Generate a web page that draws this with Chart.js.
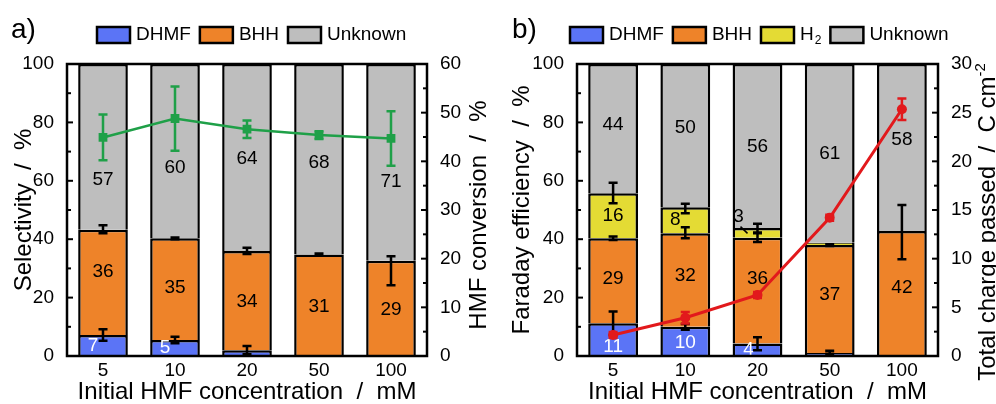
<!DOCTYPE html>
<html lang="en">
<head>
<meta charset="utf-8">
<title>Selectivity and Faraday efficiency vs. initial HMF concentration</title>
<script src="https://cdn.jsdelivr.net/npm/chart.js@4.4.1/dist/chart.umd.min.js"></script>
<style>
  body { margin: 0; background: #fff; }
  .panel { position: absolute; top: 0; width: 498px; height: 404px; }
  #panel-a { left: 0; }
  #panel-b { left: 498px; }
</style>
</head>
<body>
<div class="panel" id="panel-a"><canvas id="chart-a" width="498" height="404"></canvas></div>
<div class="panel" id="panel-b"><canvas id="chart-b" width="498" height="404"></canvas></div>

<script>
// ---- data -------------------------------------------------------------
var concentrations = ['5', '10', '20', '50', '100'];

// a) selectivity (%) - segment heights as drawn
var selDHMF = [7.2, 5.5, 2, null, null];
var selBHH = [36, 34.8, 34, 34.8, 32.6];
var selUnknown = [56.8, 59.7, 64, 65.2, 67.4];
// printed numbers
var selDHMFText = [7, 5, null, null, null];
var selBHHText = [36, 35, 34, 31, 29];
var selUnknownText = [57, 60, 64, 68, 71];
// error bars (centre, half width)
var selDHMFErrMid = [7.2, 5.5, 2, null, null];
var selDHMFErr = [2, 1.1, 1.4, null, null];
var selBHHErrMid = [43.4, 40.3, 36, 34.8, 29.2];
var selBHHErr = [1.4, 0.3, 1.1, 0.3, 5];
// HMF conversion (%)
var conversion = [44.9, 48.8, 46.6, 45.4, 44.7];
var conversionErr = [4.7, 6.6, 1.8, 0.8, 5.6];

// b) Faraday efficiency (%)
var feDHMF = [11.2, 10, 4.3, 1, null];
var feBHH = [29.1, 32, 36.2, 37, 42.8];
var feH2 = [15.4, 8.9, 3.3, 0.8, null];
var feUnknown = [44.3, 49.1, 56.2, 61.2, 57.2];
var feDHMFText = [11, 10, 4, null, null];
var feBHHText = [29, 32, 36, 37, 42];
var feH2Text = [16, 8, 3, null, null];
var feUnknownText = [44, 50, 56, 61, 58];
var feDHMFErrMid = [11.2, 10, 4.2, 1.3, null];
var feDHMFErr = [4, 1, 2.2, 0.5, null];
var feBHHErrMid = [40.3, 42.2, 40.5, 38, 42.4];
var feBHHErr = [0.6, 1.9, 1.5, 0.3, 9.3];
var feH2ErrMid = [55.8, 50.5, 43.8, null, null];
var feH2Err = [3.5, 1.6, 1.5, null, null];
// total charge passed (C cm-2)
var charge = [2.16, 3.93, 6.27, 14.2, 25.35];
var chargeErr = [0.3, 0.6, 0.3, 0.3, 1.1];

// ---- style ------------------------------------------------------------
var BLUE = '#5B74F6', ORANGE = '#EE8329', GREY = '#BEBEBE', YELLOW = '#E4DB34';
var GREEN = '#1FA048', RED = '#E2191C';
var FONT = "'Liberation Sans', Arial, Helvetica, sans-serif";

// where the printed numbers sit (value on the left axis, x shift in px)
var selLabelY = { dhmf: [3.4, 2.8], bhh: [28.9, 23.5, 18.6, 16.9, 15.8], unk: [60.5, 64.6, 67.7, 66.3, 59.7] };
var selLabelDx = { dhmf: [-10, -10] };
var feLabelY = { dhmf: [3.2, 4.6, 2.1], bhh: [26.6, 27.4, 26.6, 20.9, 23.2], h2: [47.9, 46.6, 47.7], unk: [79.1, 78, 71.7, 69.4, 74.2] };
var feLabelDx = { dhmf: [0, 0, -9], h2: [0, -10, -19] };

function drawErrorBars(ctx, xs, ys, mids, sizes, color, lw, cap) {
  ctx.save();
  ctx.strokeStyle = color;
  ctx.lineWidth = lw;
  mids.forEach(function (m, i) {
    if (m == null || sizes[i] == null) return;
    var x = xs.getPixelForValue(i);
    var yTop = ys.getPixelForValue(m + sizes[i]);
    var yBot = ys.getPixelForValue(m - sizes[i]);
    ctx.beginPath();
    ctx.moveTo(x, yTop); ctx.lineTo(x, yBot);
    ctx.moveTo(x - cap, yTop); ctx.lineTo(x + cap, yTop);
    ctx.moveTo(x - cap, yBot); ctx.lineTo(x + cap, yBot);
    ctx.stroke();
  });
  ctx.restore();
}

function drawNumbers(ctx, xs, ys, texts, at, dx, color) {
  ctx.save();
  ctx.font = '19px ' + FONT;
  ctx.fillStyle = color;
  ctx.textAlign = 'center';
  ctx.textBaseline = 'middle';
  texts.forEach(function (t, i) {
    if (t == null) return;
    var x = xs.getPixelForValue(i) + (dx ? dx[i] : 0);
    ctx.fillText(String(t), x, ys.getPixelForValue(at[i]));
  });
  ctx.restore();
}

function drawInnerTicks(ctx, scale, x0, dir, step, major) {
  ctx.save();
  ctx.strokeStyle = '#000';
  ctx.lineWidth = 2;
  for (var v = scale.min + step; v < scale.max - 1e-6; v += step) {
    var y = scale.getPixelForValue(v);
    var isMajor = Math.abs(v / major - Math.round(v / major)) < 1e-6;
    var len = isMajor ? 6 : 4;
    ctx.beginPath();
    ctx.moveTo(x0, y);
    ctx.lineTo(x0 + dir * len, y);
    ctx.stroke();
  }
  ctx.restore();
}

function drawLegend(ctx, datasets, x, yc) {
  ctx.save();
  ctx.textBaseline = 'middle';
  ctx.textAlign = 'left';
  datasets.forEach(function (ds) {
    if (ds.type === 'line') return;
    ctx.fillStyle = ds.backgroundColor;
    ctx.fillRect(x, yc - 8, 33, 16);
    ctx.strokeStyle = '#000';
    ctx.lineWidth = 2.5;
    ctx.strokeRect(x, yc - 8, 33, 16);
    x += 39;
    ctx.fillStyle = '#000';
    ctx.font = '19px ' + FONT;
    var txt = ds.legendText || ds.label;
    ctx.fillText(txt, x, yc);
    x += ctx.measureText(txt).width;
    if (ds.legendSub) {
      ctx.font = '12px ' + FONT;
      ctx.fillText(ds.legendSub, x + 1, yc + 6);
      x += ctx.measureText(ds.legendSub).width + 1;
    }
    x += 9;
  });
  ctx.restore();
}

function drawRotatedTitle(ctx, parts, x, yc) {
  // parts: [{text, size, rise}] drawn bottom-to-top, centred on yc, baseline at x
  ctx.save();
  ctx.translate(x, yc);
  ctx.rotate(-Math.PI / 2);
  ctx.fillStyle = '#000';
  ctx.textBaseline = 'alphabetic';
  ctx.textAlign = 'left';
  var total = 0;
  parts.forEach(function (p) { ctx.font = p.size + 'px ' + FONT; total += ctx.measureText(p.text).width; });
  var pos = -total / 2;
  parts.forEach(function (p) {
    ctx.font = p.size + 'px ' + FONT;
    ctx.fillText(p.text, pos, -(p.rise || 0));
    pos += ctx.measureText(p.text).width;
  });
  ctx.restore();
}

function makePanelPlugin(p) {
  return {
    id: 'panelExtras',
    beforeDatasetDraw: function (chart, args) {
      if (args.meta.type !== 'line') return;
      var ctx = chart.ctx, xs = chart.scales.x, ys = chart.scales.y;
      p.numbers.forEach(function (n) { drawNumbers(ctx, xs, ys, n.texts, n.at, n.dx, n.color); });
      if (p.leader) {
        var xc = xs.getPixelForValue(p.leader.index);
        ctx.save();
        ctx.strokeStyle = '#000';
        ctx.lineWidth = 1.5;
        ctx.beginPath();
        ctx.moveTo(xc + p.leader.dx1, ys.getPixelForValue(p.leader.v1));
        ctx.lineTo(xc + p.leader.dx2, ys.getPixelForValue(p.leader.v2));
        ctx.stroke();
        ctx.restore();
      }
      p.errors.forEach(function (e) { drawErrorBars(ctx, xs, ys, e.mid, e.size, '#000', 2.5, 4.5); });
      drawErrorBars(ctx, xs, chart.scales.y1, p.line, p.lineErr, p.lineColor, 2.5, 4.5);
    },
    afterDraw: function (chart) {
      var ctx = chart.ctx, a = chart.chartArea;
      ctx.save();
      ctx.strokeStyle = '#000';
      ctx.lineWidth = 2.5;
      ctx.strokeRect(a.left, a.top, a.right - a.left, a.bottom - a.top);
      ctx.restore();
      drawInnerTicks(ctx, chart.scales.y, a.left, 1, 10, 20);
      drawInnerTicks(ctx, chart.scales.y1, a.right, -1, p.rightStep, p.rightMajor);
      drawLegend(ctx, chart.data.datasets, p.legendX, 35);
      drawRotatedTitle(ctx, p.rightTitle, p.rightTitleX, (a.top + a.bottom) / 2 + p.rightTitleDy);
      ctx.save();
      ctx.font = '28px ' + FONT;
      ctx.fillStyle = '#000';
      ctx.textBaseline = 'middle';
      ctx.fillText(p.letter, p.letterX, 30);
      ctx.restore();
    }
  };
}

function makeOptions(leftW, rightW, yTitle, y1Max, y1Step) {
  var tickFont = { family: FONT, size: 19 };
  return {
    responsive: false,
    devicePixelRatio: 1,
    animation: false,
    layout: { padding: { top: 64, left: 0, right: 0, bottom: 0 } },
    plugins: { legend: { display: false }, tooltip: { enabled: false } },
    scales: {
      x: {
        stacked: true,
        grid: { display: false }, border: { display: false },
        ticks: { color: '#000', font: tickFont, padding: -5 },
        title: { display: true, text: 'Initial HMF concentration  /  mM', color: '#000',
                 font: { family: FONT, size: 24, lineHeight: 1 }, padding: { top: 0, bottom: 0 } },
        afterFit: function (s) { s.height = 48; }
      },
      y: {
        stacked: true, min: 0, max: 100, position: 'left',
        grid: { display: false }, border: { display: false },
        ticks: { color: '#000', font: tickFont, stepSize: 20, padding: 5 },
        title: { display: true, text: yTitle, color: '#000',
                 font: { family: FONT, size: 24, lineHeight: 1 }, padding: { top: 12, bottom: 0 } },
        afterFit: function (s) { s.width = leftW; }
      },
      y1: {
        stacked: false, min: 0, max: y1Max, position: 'right',
        grid: { display: false }, border: { display: false },
        ticks: { color: '#000', font: tickFont, stepSize: y1Step, padding: 5 },
        afterFit: function (s) { s.width = rightW; }
      }
    }
  };
}

function barSet(label, data, color, extra) {
  var ds = { type: 'bar', label: label, data: data, backgroundColor: color, borderColor: '#000',
             borderWidth: 2.5, barPercentage: 0.69, categoryPercentage: 1, yAxisID: 'y', order: 1 };
  return Object.assign(ds, extra || {});
}

// ---- a) ---------------------------------------------------------------
new Chart(document.getElementById('chart-a'), {
  data: {
    labels: concentrations,
    datasets: [
      { type: 'line', label: 'HMF conversion', data: conversion, yAxisID: 'y1', order: 0,
        borderColor: GREEN, backgroundColor: GREEN, borderWidth: 2.5,
        pointStyle: 'rect', pointRadius: 6.2, pointBorderWidth: 0 },
      barSet('DHMF', selDHMF, BLUE),
      barSet('BHH', selBHH, ORANGE),
      barSet('Unknown', selUnknown, GREY)
    ]
  },
  options: makeOptions(67, 71, 'Selectivity  /  %', 60, 10),
  plugins: [makePanelPlugin({
    numbers: [
      { texts: selDHMFText, at: selLabelY.dhmf, dx: selLabelDx.dhmf, color: '#fff' },
      { texts: selBHHText, at: selLabelY.bhh, color: '#000' },
      { texts: selUnknownText, at: selLabelY.unk, color: '#000' }
    ],
    errors: [
      { mid: selDHMFErrMid, size: selDHMFErr },
      { mid: selBHHErrMid, size: selBHHErr }
    ],
    line: conversion, lineErr: conversionErr, lineColor: GREEN,
    rightStep: 5, rightMajor: 10,
    legendX: 97,
    rightTitle: [{ text: 'HMF conversion  /  %', size: 24 }],
    rightTitleX: 486, rightTitleDy: 5,
    letter: 'a)', letterX: 11
  })]
});

// ---- b) ---------------------------------------------------------------
new Chart(document.getElementById('chart-b'), {
  data: {
    labels: concentrations,
    datasets: [
      { type: 'line', label: 'Total charge passed', data: charge, yAxisID: 'y1', order: 0,
        borderColor: RED, backgroundColor: RED, borderWidth: 3,
        pointStyle: 'circle', pointRadius: 5, pointBorderWidth: 0 },
      barSet('DHMF', feDHMF, BLUE),
      barSet('BHH', feBHH, ORANGE),
      barSet('H\u2082', feH2, YELLOW, { legendText: 'H', legendSub: '2' }),
      barSet('Unknown', feUnknown, GREY)
    ]
  },
  options: makeOptions(79, 58, 'Faraday efficiency  /  %', 30, 5),
  plugins: [makePanelPlugin({
    numbers: [
      { texts: feDHMFText, at: feLabelY.dhmf, dx: feLabelDx.dhmf, color: '#fff' },
      { texts: feBHHText, at: feLabelY.bhh, color: '#000' },
      { texts: feH2Text, at: feLabelY.h2, dx: feLabelDx.h2, color: '#000' },
      { texts: feUnknownText, at: feLabelY.unk, color: '#000' }
    ],
    leader: { index: 2, dx1: -17, v1: 44.3, dx2: -10, v2: 42 },
    errors: [
      { mid: feDHMFErrMid, size: feDHMFErr },
      { mid: feBHHErrMid, size: feBHHErr },
      { mid: feH2ErrMid, size: feH2Err }
    ],
    line: charge, lineErr: chargeErr, lineColor: RED,
    rightStep: 2.5, rightMajor: 5,
    legendX: 72,
    rightTitle: [{ text: 'Total charge passed  /  C cm', size: 24 }, { text: '-2', size: 15, rise: 10 }],
    rightTitleX: 497, rightTitleDy: 12,
    letter: 'b)', letterX: 14
  })]
});
</script>
</body>
</html>
